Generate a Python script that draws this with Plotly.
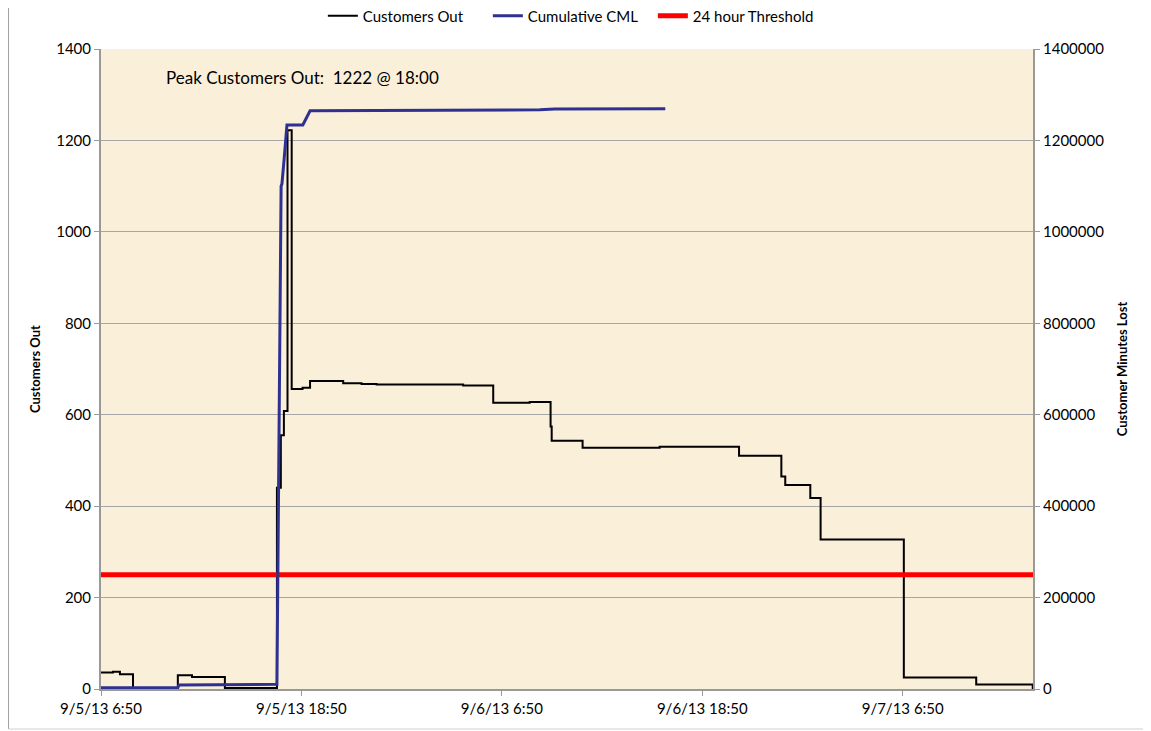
import plotly.graph_objects as go

# Customers Out (step series)
out_times = [
    "2013-09-05 06:50", "2013-09-05 07:33", "2013-09-05 07:58", "2013-09-05 08:45",
    "2013-09-05 11:26", "2013-09-05 12:17", "2013-09-05 14:15", "2013-09-05 17:22",
    "2013-09-05 17:36", "2013-09-05 17:47", "2013-09-05 18:00", "2013-09-05 18:15",
    "2013-09-05 18:54", "2013-09-05 19:21", "2013-09-05 21:20", "2013-09-05 22:26",
    "2013-09-05 23:20", "2013-09-06 04:31", "2013-09-06 06:19", "2013-09-06 08:30",
    "2013-09-06 09:45", "2013-09-06 09:49", "2013-09-06 11:40", "2013-09-06 16:17",
    "2013-09-06 21:02", "2013-09-06 23:34", "2013-09-06 23:48", "2013-09-07 01:18",
    "2013-09-07 01:55", "2013-09-07 06:54", "2013-09-07 11:14", "2013-09-07 14:37",
]
out_values = [
    36, 38, 32, 1,
    30, 26, 2, 440,
    555, 608, 1222, 656,
    659, 674, 669, 667,
    666, 664, 626, 628,
    574, 543, 528, 530,
    510, 465, 446, 418,
    327, 25, 10, 0,
]

# Cumulative CML (right axis)
cml_times = [
    "2013-09-05 06:50", "2013-09-05 11:26", "2013-09-05 11:30", "2013-09-05 17:22",
    "2013-09-05 17:37", "2013-09-05 17:40", "2013-09-05 17:48", "2013-09-05 17:58",
    "2013-09-05 18:55", "2013-09-05 19:21", "2013-09-06 09:06", "2013-09-06 10:00",
    "2013-09-06 16:37",
]
cml_values = [
    2800, 3000, 8500, 10300,
    1100000, 1105000, 1160000, 1234000,
    1234000, 1265000, 1267000, 1269000,
    1269500,
]

# 24 hour threshold
thr_times = ["2013-09-05 06:50", "2013-09-07 14:38"]
thr_values = [250, 250]

x_tickvals = ["2013-09-05 06:50", "2013-09-05 18:50", "2013-09-06 06:50",
              "2013-09-06 18:50", "2013-09-07 06:50"]
x_ticktext = ["9/5/13 6:50", "9/5/13 18:50", "9/6/13 6:50", "9/6/13 18:50", "9/7/13 6:50"]

FONT = "Lato, Liberation Sans, sans-serif"

fig = go.Figure()
fig.add_trace(go.Scatter(x=out_times, y=out_values, name="Customers Out", mode="lines",
                         line=dict(color="black", width=2, shape="hv")))
fig.add_trace(go.Scatter(x=cml_times, y=cml_values, name="Cumulative CML", mode="lines",
                         line=dict(color="#2E3192", width=3), yaxis="y2"))
fig.add_trace(go.Scatter(x=thr_times, y=thr_values, name="24 hour Threshold", mode="lines",
                         line=dict(color="#FF0000", width=5)))

fig.update_layout(
    width=1143, height=723,
    margin=dict(l=93, r=118, t=41, b=42, autoexpand=False),
    paper_bgcolor="white",
    plot_bgcolor="#FAEFD8",
    font=dict(family=FONT, size=15, color="black"),
    showlegend=True,
    legend=dict(orientation="h", x=0.492, xanchor="center", xref="container",
                y=0.989, yanchor="middle", yref="container", entrywidth=120,
                font=dict(size=15), bgcolor="rgba(0,0,0,0)"),
    xaxis=dict(type="date", range=["2013-09-05 06:50", "2013-09-07 14:38"],
               tickvals=x_tickvals, ticktext=x_ticktext, showgrid=False,
               showline=True, linecolor="#999999", linewidth=2,
               ticks="outside", ticklen=5, tickcolor="#999999",
               tickfont=dict(size=15), zeroline=False),
    yaxis=dict(range=[0, 1400], dtick=200, showgrid=True, gridcolor="#A6A6A6", gridwidth=1,
               showline=True, linecolor="#999999", linewidth=2,
               ticks="outside", ticklen=5, tickcolor="#999999", zeroline=False,
               title=dict(text="<b>Customers Out</b>", font=dict(size=13), standoff=13),
               tickfont=dict(size=15)),
    yaxis2=dict(range=[0, 1400000], dtick=200000, overlaying="y", side="right",
                showgrid=False, tickformat="d", showline=True, linecolor="#999999",
                linewidth=2, ticks="outside", ticklen=5, tickcolor="#999999", zeroline=False,
                title=dict(text="<b>Customer Minutes Lost</b>", font=dict(size=13), standoff=15),
                tickfont=dict(size=15)),
    annotations=[dict(text="Peak Customers Out:  1222 @ 18:00", xref="paper", yref="paper",
                      x=0.0676, y=0.955, xanchor="left", yanchor="middle", showarrow=False,
                      font=dict(size=17))],
    shapes=[
        dict(type="line", xref="paper", yref="paper", x0=-0.0992, x1=-0.0992, y0=1.1, y1=-0.0625,
             line=dict(color="#A0A0A0", width=1)),
        dict(type="line", xref="paper", yref="paper", x0=-0.0992, x1=1.2, y0=-0.0625, y1=-0.0625,
             line=dict(color="#D0D0D0", width=1)),
    ],
)

fig.write_html("out.html")
